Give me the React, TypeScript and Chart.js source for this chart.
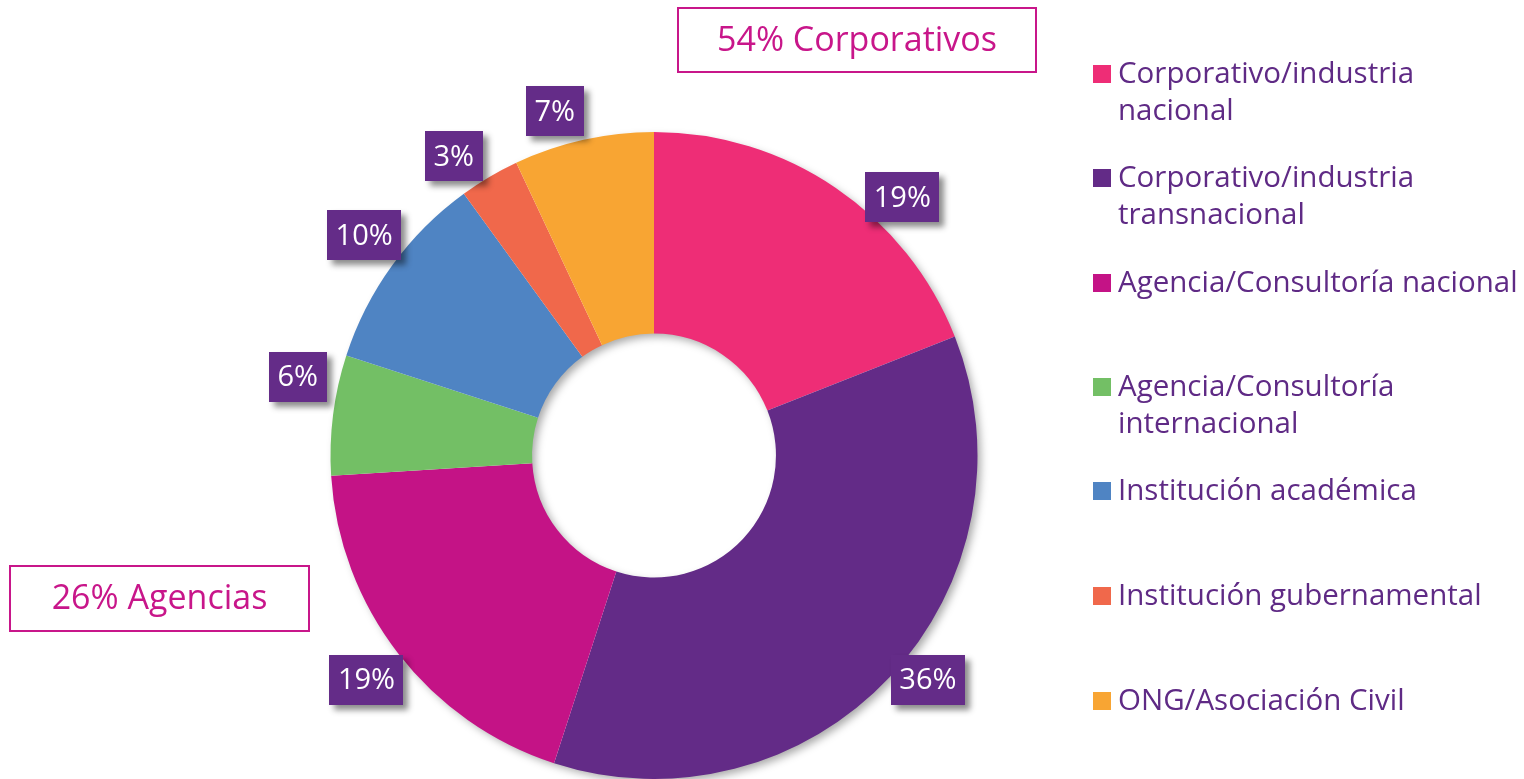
import React, { useEffect, useRef } from "react";
import { Chart, registerables } from "chart.js";

Chart.register(...registerables);

// ---- data ----
const categoryLines: string[][] = [
  ["Corporativo/industria", "nacional"],
  ["Corporativo/industria", "transnacional"],
  ["Agencia/Consultoría nacional"],
  ["Agencia/Consultoría", "internacional"],
  ["Institución académica"],
  ["Institución gubernamental"],
  ["ONG/Asociación Civil"],
];
const categories = categoryLines.map((l) => l.join(" "));
const shares = [19, 36, 19, 6, 10, 3, 7];
const sliceColors = ["#EE2D76", "#632B87", "#C41386", "#73BF65", "#4F84C3", "#F0684B", "#F8A533"];
const groupTitles = ["54% Corporativos", "26% Agencias"];

const FONT = '"Open Sans", "Noto Sans", sans-serif';
const LABEL_BG = "#642C88";
const TEXT_PURPLE = "#5F2A85";
const MAGENTA = "#C8168A";

const ringShadow = {
  id: "ringShadow",
  beforeDatasetsDraw(chart: any) {
    const el = chart.getDatasetMeta(0).data[0];
    if (!el) return;
    const { x, y, outerRadius, innerRadius } = el.getProps(["x", "y", "outerRadius", "innerRadius"], true);
    const ctx = chart.ctx;
    ctx.save();
    ctx.shadowColor = "rgba(0,0,0,0.35)";
    ctx.shadowBlur = 8;
    ctx.shadowOffsetX = 4;
    ctx.shadowOffsetY = 4;
    ctx.fillStyle = "#ffffff";
    ctx.beginPath();
    ctx.arc(x, y, outerRadius - 1, 0, Math.PI * 2);
    ctx.moveTo(x + innerRadius + 1, y);
    ctx.arc(x, y, innerRadius + 1, 0, Math.PI * 2, true);
    ctx.fill("evenodd");
    ctx.restore();
  },
};

const valueLabels = {
  id: "valueLabels",
  afterDatasetsDraw(chart: any, _args: any, opts: any) {
    const ctx = chart.ctx;
    const meta = chart.getDatasetMeta(0);
    const data = chart.data.datasets[0].data as number[];
    meta.data.forEach((el: any, i: number) => {
      const { x, y, outerRadius, startAngle, endAngle } = el.getProps(
        ["x", "y", "outerRadius", "startAngle", "endAngle"],
        true
      );
      const mid = (startAngle + endAngle) / 2 + ((opts.shift[i] || 0) * Math.PI) / 180;
      const r = outerRadius * (opts.radius[i] || 1.11);
      const cx = x + r * Math.cos(mid);
      const cy = y + r * Math.sin(mid);
      const text = `${data[i]}%`;
      ctx.save();
      ctx.font = `29px ${FONT}`;
      const w = ctx.measureText(text).width + 17;
      const h = 50;
      ctx.shadowColor = "rgba(0,0,0,0.45)";
      ctx.shadowBlur = 6;
      ctx.shadowOffsetX = 5;
      ctx.shadowOffsetY = 5;
      ctx.fillStyle = LABEL_BG;
      ctx.fillRect(Math.round(cx - w / 2), Math.round(cy - h / 2), Math.round(w), h);
      ctx.shadowColor = "transparent";
      ctx.fillStyle = "#ffffff";
      ctx.textAlign = "center";
      ctx.textBaseline = "middle";
      ctx.fillText(text, cx, cy + 1);
      ctx.restore();
    });
  },
};

const sideTexts = {
  id: "sideTexts",
  afterDraw(chart: any, _args: any, opts: any) {
    const ctx = chart.ctx;
    const colors = chart.data.datasets[0].backgroundColor as string[];
    ctx.save();
    // legend
    ctx.font = `29.5px ${FONT}`;
    ctx.textBaseline = "middle";
    ctx.textAlign = "left";
    categoryLines.forEach((lines, i) => {
      const y0 = opts.legendRows[i];
      ctx.fillStyle = colors[i];
      ctx.fillRect(opts.legendX, y0 - 9, 18, 18);
      ctx.fillStyle = TEXT_PURPLE;
      lines.forEach((line, j) => {
        ctx.fillText(line, opts.legendX + 25, y0 + 1 + j * 37);
      });
    });
    // group boxes
    opts.boxes.forEach((b: any, i: number) => {
      ctx.strokeStyle = MAGENTA;
      ctx.lineWidth = 2;
      ctx.strokeRect(b.x, b.y, b.w, b.h);
      ctx.fillStyle = MAGENTA;
      ctx.font = `34px ${FONT}`;
      ctx.textAlign = "center";
      ctx.fillText(groupTitles[i], b.x + b.w / 2, b.y + b.h / 2 + 1);
    });
    ctx.restore();
  },
};

export default function App() {
  const ref = useRef<HTMLCanvasElement>(null);
  useEffect(() => {
    document.body.style.margin = "0";
    const chart = new Chart(ref.current!, {
      type: "doughnut",
      data: {
        labels: categories,
        datasets: [
          {
            data: shares,
            backgroundColor: sliceColors,
            borderWidth: 0,
          },
        ],
      },
      options: {
        responsive: false,
        animation: false,
        devicePixelRatio: 1,
        cutout: "37.7%",
        layout: { padding: { left: 330, right: 546, top: 132, bottom: 0 } },
        plugins: {
          legend: { display: false },
          tooltip: { enabled: false },
          valueLabels: {
            shift: [9.7, -3.9, -0.2, 5.3, 1.2, -3.2, -3.5],
            radius: [1.107, 1.094, 1.128, 1.128, 1.125, 1.113, 1.107],
          },
          sideTexts: {
            legendX: 1093,
            legendRows: [74, 178, 283, 387, 491, 596, 701],
            boxes: [
              { x: 678, y: 8, w: 358, h: 64 },
              { x: 10, y: 566, w: 299, h: 65 },
            ],
          },
        } as any,
      },
      plugins: [ringShadow, valueLabels, sideTexts],
    });
    return () => chart.destroy();
  }, []);
  return (
    <div style={{ position: "fixed", left: 0, top: 0, width: 1524, height: 779, background: "#fff" }}>
      <canvas ref={ref} width={1524} height={779} style={{ display: "block" }} />
    </div>
  );
}
